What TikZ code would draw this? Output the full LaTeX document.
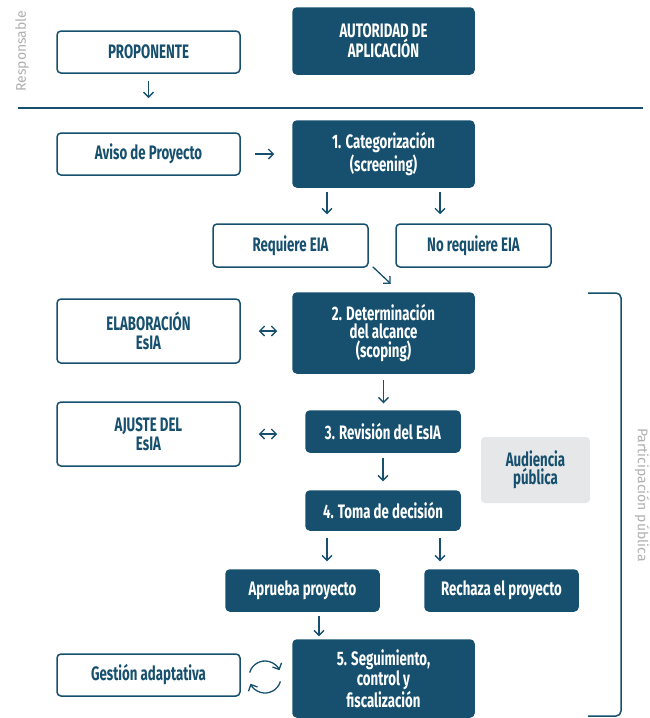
\documentclass[tikz,border=0pt]{standalone}
\usepackage{fontspec}
\setmainfont{Fira Sans}[FakeStretch=0.68]
\newfontfamily\lateral{Fira Sans}
\usetikzlibrary{arrows.meta}
\usetikzlibrary{calc}
\definecolor{azul}{RGB}{22,80,110}
\definecolor{grisclaro}{RGB}{230,231,232}
\definecolor{gristexto}{RGB}{175,175,175}
\tikzset{
    caja/.style={draw=azul, line width=1.5pt, rounded corners=4pt, fill=white, text=azul,
        font=\bfseries\fontsize{19.5}{18.5}\selectfont, align=center, inner sep=0pt},
    oscura/.style={caja, fill=azul, text=white},
    punta/.style={-{Straight Barb[length=5pt,width=10pt]}},
    flecha/.style={azul, line width=1.3pt, punta},
    doble/.style={azul, line width=1.3pt, {Straight Barb[length=5pt,width=10pt]}-{Straight Barb[length=5pt,width=10pt]}},
    lado/.style={text=gristexto, font=\lateral\fontsize{14}{14}\selectfont}
}
\begin{document}
\begin{tikzpicture}[x=1pt, y=-1pt]
            \useasboundingbox (0,0) rectangle (650,718);
                \node[lado, rotate=90] (resp) at (22,51) {Responsable};
                \node[caja, minimum width=183, minimum height=42] (prop) at (148.5,52) {PROPONENTE};
                \node[oscura, minimum width=181, minimum height=66] (aut) at (383.5,41) {AUTORIDAD DE\\APLICACIÓN};
                \coordinate (l1) at (18,108);
                \coordinate (l2) at (643,108);
                \draw[azul, line width=1.5pt] (l1) -- (l2);
                \draw[flecha, shorten <=7pt, shorten >=10pt] (prop.south) -- (prop.south |- l1);
                \node[caja, minimum width=183, minimum height=42] (aviso) at (148.5,154) {Aviso de Proyecto};
                \node[oscura, minimum width=181, minimum height=66] (cat) at (383.5,154) {1. Categorización\\(screening)};
                \draw[flecha, shorten <=14pt, shorten >=18pt] (aviso.east) -- (cat.west);
                \node[caja, minimum width=155, minimum height=43] (req) at (290.5,245.5) {Requiere EIA};
                \node[caja, minimum width=155, minimum height=43] (noreq) at (473.5,245.5) {No requiere EIA};
                \draw[flecha, shorten <=4pt, shorten >=9pt] ([xshift=-56.5pt]cat.south) -- ([xshift=-56.5pt]cat.south |- req.north);
                \draw[flecha, shorten <=4pt, shorten >=9pt] ([xshift=56.5pt]cat.south) -- ([xshift=56.5pt]cat.south |- noreq.north);
                \node[caja, minimum width=183, minimum height=64] (elab) at (148.5,331) {ELABORACIÓN\\EsIA};
                \node[oscura, minimum width=181, minimum height=80] (det) at (383.5,333) {2. Determinación\\del alcance\\(scoping)};
                \draw[flecha] ($(req.south east)+(4,-1)$) -- ($(req.south east)+(22,16)$);
                \draw[doble, shorten <=18pt, shorten >=15pt] (elab.east) -- (elab.east -| det.west);
                \node[caja, minimum width=183, minimum height=64] (ajuste) at (148.5,434) {AJUSTE DEL\\EsIA};
                \node[oscura, minimum width=154, minimum height=41] (rev) at (383,431.5) {3. Revisión del EsIA};
                \draw[flecha, shorten <=6pt, shorten >=7pt] (det.south) -- (det.south |- rev.north);
                \draw[doble, shorten <=18pt, shorten >=15pt] (ajuste.east) -- (ajuste.east -| det.west);
                \node[caja, draw=none, fill=grisclaro, minimum width=109, minimum height=66] (aud) at (535.5,470) {Audiencia\\pública};
                \node[oscura, minimum width=154, minimum height=39] (toma) at (383,510.5) {4. Toma de decisión};
                \draw[flecha, shorten <=5pt, shorten >=9pt] (rev.south) -- (toma.north);
                \node[oscura, minimum width=153, minimum height=41] (aprueba) at (302.5,590.5) {Aprueba proyecto};
                \node[oscura, minimum width=153, minimum height=41] (rechaza) at (501.5,590.5) {Rechaza el proyecto};
                \draw[flecha, shorten <=7pt, shorten >=8pt] ([xshift=-56pt]toma.south) -- ([xshift=-56pt]toma.south |- aprueba.north);
                \draw[flecha, shorten <=7pt, shorten >=8pt] ([xshift=57pt]toma.south) -- ([xshift=57pt]toma.south |- rechaza.north);
                \node[oscura, minimum width=181, minimum height=77] (seg) at (383.5,678.5) {5. Seguimiento,\\control y\\fiscalización};
                \draw[flecha, shorten <=4pt, shorten >=3pt] ([xshift=16.5pt]aprueba.south) -- ([xshift=16.5pt]aprueba.south |- seg.north);
                \node[caja, minimum width=183, minimum height=42] (gest) at (148.5,675) {Gestión adaptativa};
                \coordinate (ciclo) at (265,677);
                \draw[flecha] ($(ciclo)+(196:16)$) arc[start angle=196, end angle=335, radius=16];
                \draw[flecha] ($(ciclo)+(16:16)$) arc[start angle=16, end angle=155, radius=16];
                \coordinate (b1) at (588,293);
                \coordinate (b2) at (588,716);
                \draw[azul, line width=1.5pt, rounded corners=5pt] (b1) -| (621,716) -- (b2);
                \node[lado, rotate=-90] (part) at (642,495) {Participación pública};
            \end{tikzpicture}
\end{document}
